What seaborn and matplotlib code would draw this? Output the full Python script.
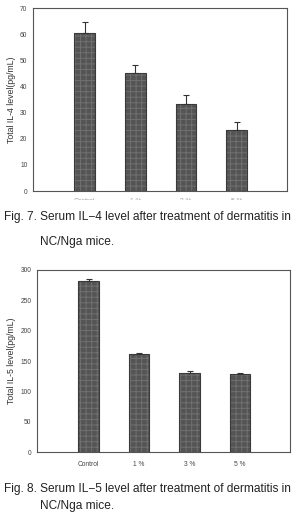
import numpy as np
import pandas as pd
import matplotlib
matplotlib.use("Agg")
import matplotlib.pyplot as plt
import seaborn as sns

groups = ["Control", "1 %", "3 %", "5 %"]
il4_mean = [60.5, 45.3, 33.3, 23.3]
il4_err = [4.2, 2.9, 3.6, 3.2]
il5_mean = [281, 162, 131, 128]
il5_err = [4, 2, 3, 3]

cap7 = "Fig. 7. Serum IL\u22124 level after treatment of dermatitis in"
cap8 = "Fig. 8. Serum IL\u22125 level after treatment of dermatitis in"
cap_line2 = "NC/Nga mice."

sns.set_style("white")
plt.rcParams["font.family"] = ["Liberation Sans", "DejaVu Sans"]
plt.rcParams["hatch.linewidth"] = 0.7

fig = plt.figure(figsize=(2.96, 5.15), dpi=100)
ax1 = fig.add_axes([0.111, 0.629, 0.858, 0.355])
ax2 = fig.add_axes([0.125, 0.122, 0.855, 0.354])


def draw_panel(ax, means, errs, ylabel, ymax, ystep):
    df = pd.DataFrame({"group": groups, "value": means})
    sns.barplot(data=df, x="group", y="value", ax=ax, color="#545454",
                width=0.41, saturation=1, errorbar=None)
    for p in ax.patches:
        p.set_hatch("+++")
        p.set_edgecolor("#707070")
        p.set_linewidth(0)
        ax.add_patch(plt.Rectangle(p.get_xy(), p.get_width(), p.get_height(),
                                   fill=False, edgecolor="#3a3a3a", lw=0.8, zorder=3))
    ax.errorbar(range(len(groups)), means, yerr=[[0] * len(errs), errs],
                fmt="none", ecolor="#333333", elinewidth=0.8, capsize=2.5,
                capthick=0.8, zorder=4)
    ax.set_xlim(-1.02, 3.99)
    ax.set_ylim(0, ymax)
    ax.set_yticks(np.arange(0, ymax + 1, ystep))
    ax.set_xlabel("")
    ax.set_ylabel(ylabel, fontsize=6.3, color="#333333", labelpad=3)
    ax.tick_params(axis="both", labelsize=4.8, colors="#444444", length=2,
                   width=0.6, pad=2, direction="out")
    ax.tick_params(axis="x", pad=4)
    for s in ax.spines.values():
        s.set_color("#555555")
        s.set_linewidth(0.8)


draw_panel(ax1, il4_mean, il4_err, "Total IL-4 level(pg/mL)", 70, 10)
draw_panel(ax2, il5_mean, il5_err, "Total IL-5 level(pg/mL)", 300, 50)

# top panel's category labels are cut off in the source
ax1.tick_params(axis="x", length=0, pad=5)
for t in ax1.get_xticklabels():
    t.set_alpha(0.5)
fig.patches.append(plt.Rectangle((0, 0.600), 1, 0.012, transform=fig.transFigure,
                                 facecolor="white", edgecolor="none", zorder=10))

cap_kw = dict(fontsize=8.6, color="#222222", family=["Liberation Sans Narrow", "Liberation Sans", "DejaVu Sans"])
fig.text(0.012, 1 - 217 / 515, cap7, va="center", ha="left", **cap_kw)
fig.text(0.135, 1 - 242 / 515, cap_line2, va="center", ha="left", **cap_kw)
fig.text(0.012, 1 - 489 / 515, cap8, va="center", ha="left", **cap_kw)
fig.text(0.135, 1 - 506 / 515, cap_line2, va="center", ha="left", **cap_kw)

fig.savefig("out.png", dpi=100)
